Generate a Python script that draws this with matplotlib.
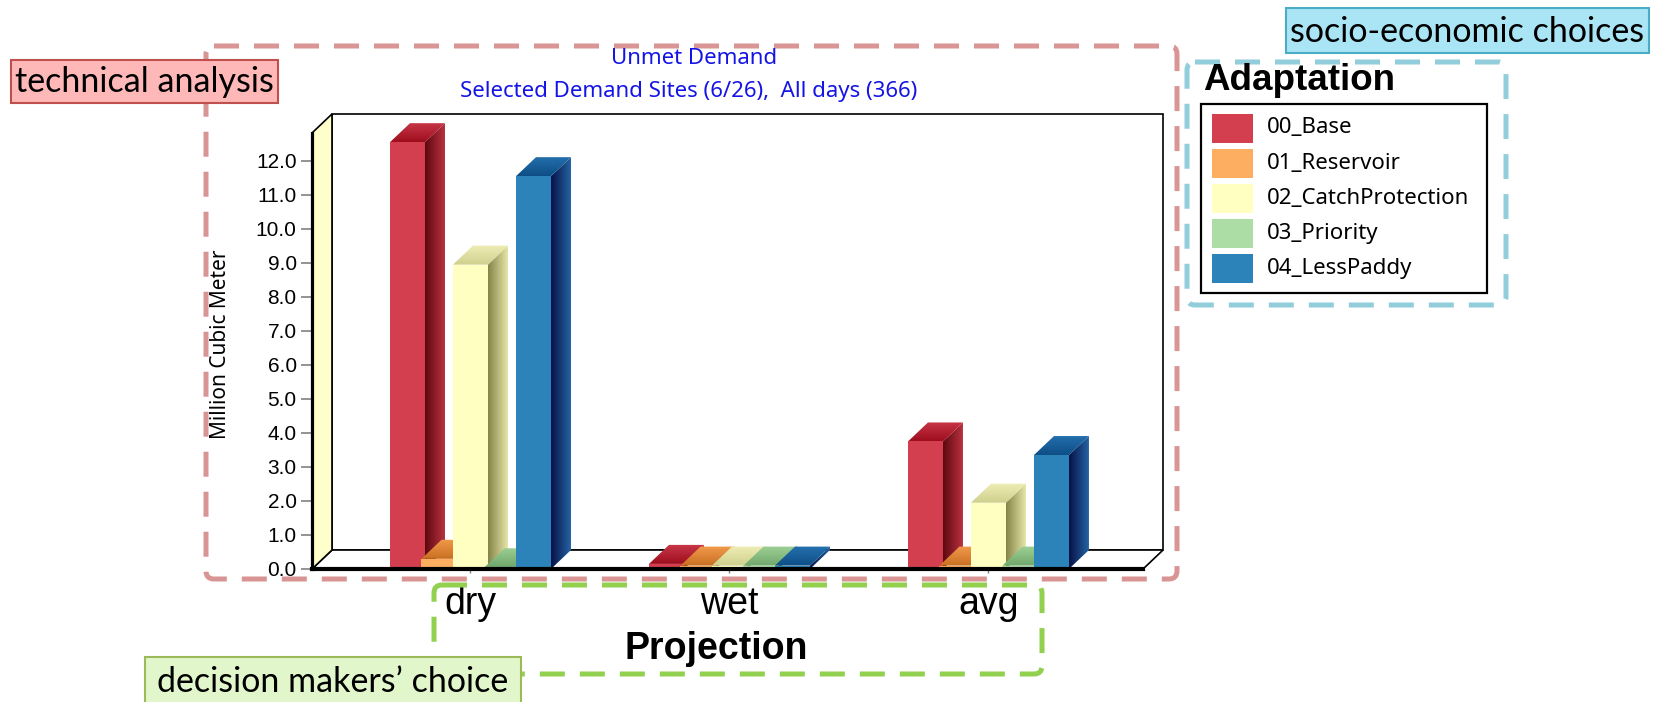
import matplotlib
matplotlib.use("Agg")
import matplotlib.pyplot as plt
import numpy as np
from matplotlib.patches import Rectangle, Polygon, FancyBboxPatch
from matplotlib.colors import LinearSegmentedColormap

# data (million m3)
projections = ["dry", "wet", "avg"]
scenarios = ["00_Base", "01_Reservoir", "02_CatchProtection", "03_Priority", "04_LessPaddy"]
base = [12.55, 0.15, 3.75]
reservoir = [0.3, 0.1, 0.1]
catch_protection = [8.95, 0.1, 1.95]
priority = [0.05, 0.1, 0.1]
less_paddy = [11.55, 0.1, 3.35]
values = [base, reservoir, catch_protection, priority, less_paddy]
yticks = np.arange(0, 13)

# front colour, side (dark -> light), top (front -> back)
front_cols = ["#D43F50", "#FDAE61", "#FFFFC2", "#ABDDA4", "#2B83BA"]
side_cols = [("#5E0810", "#B8323F"), ("#A85A18", "#E8913F"), ("#85854A", "#E6E6A8"),
             ("#5C8C56", "#A3D49B"), ("#081248", "#2463A3")]
top_cols = [("#9E0E1E", "#C83848"), ("#C86F22", "#F29A4A"), ("#CFCF8E", "#EEEEB5"),
            ("#72A86C", "#9CCF94"), ("#0E4E86", "#2470AE")]

W, H = 1659, 702
fig = plt.figure(figsize=(W / 100, H / 100), dpi=100)


def fbox(x0, y0, x1, y1):
    return [x0 / W, 1 - y1 / H, (x1 - x0) / W, (y1 - y0) / H]


ax = fig.add_axes(fbox(312, 100, 1170, 569))
xl, xr = -0.612, 2.701
y_top = 13.79
ax.set_xlim(xl, xr)
ax.set_ylim(0, y_top)
ax.patch.set_alpha(0)

# 3d depth offset in data units
dx, dy = 20 / 259, 19 / 34
x_front_r = len(projections) - 1 + 0.597
wall_h = 12.82

# back wall, floor, left wall
ax.add_patch(Rectangle((xl + dx, dy), x_front_r - xl, wall_h, fc="white", ec="black", lw=1.2, zorder=1))
ax.add_patch(Polygon([(xl, 0), (x_front_r, 0), (x_front_r + dx, dy), (xl + dx, dy)],
                     closed=True, fc="white", ec="black", lw=1.2, zorder=1.5))
ax.add_patch(Polygon([(xl, 0), (xl + dx, dy), (xl + dx, wall_h + dy), (xl, wall_h)],
                     closed=True, fc="#FFFFCC", ec="black", lw=1.2, zorder=1.5))


def grad_fill(poly, c0, c1, extent, vertical, z):
    cm = LinearSegmentedColormap.from_list("g", [c0, c1])
    g = np.linspace(0, 1, 64)
    g = g.reshape(-1, 1) if vertical else g.reshape(1, -1)
    im = ax.imshow(g, extent=extent, origin="lower", aspect="auto", cmap=cm,
                   interpolation="bilinear", zorder=z)
    im.set_clip_path(poly)


bw = 35 / 259
step = 31.5 / 259
xc = np.arange(len(projections))
z = 3
for j in range(len(projections)):
    for i, vals in enumerate(values):
        h = vals[j]
        x0 = xc[j] + (i - 2) * step - bw / 2
        x1 = x0 + bw
        ax.add_patch(Rectangle((x0, 0), bw, h, fc=front_cols[i], ec="none", zorder=z))
        side = Polygon([(x1, 0), (x1 + dx, dy), (x1 + dx, h + dy), (x1, h)], closed=True,
                       fc="none", ec="none", zorder=z)
        ax.add_patch(side)
        grad_fill(side, side_cols[i][0], side_cols[i][1], [x1, x1 + dx, 0, h + dy], False, z)
        top = Polygon([(x0, h), (x1, h), (x1 + dx, h + dy), (x0 + dx, h + dy)], closed=True,
                      fc="none", ec="none", zorder=z)
        ax.add_patch(top)
        grad_fill(top, top_cols[i][0], top_cols[i][1], [x0, x1 + dx, h, h + dy], True, z)
        z += 0.01

ax.set_xlim(xl, xr)
ax.set_ylim(0, y_top)

for s in ["top", "right"]:
    ax.spines[s].set_visible(False)
ax.spines["left"].set_bounds(0, wall_h)
ax.spines["left"].set_linewidth(2.3)
ax.spines["bottom"].set_bounds(xl, x_front_r)
ax.spines["bottom"].set_linewidth(3)
ax.spines["left"].set_zorder(10)
ax.spines["bottom"].set_zorder(10)

ax.set_yticks(yticks)
ax.set_yticklabels(["%.1f" % v for v in yticks], family="Liberation Sans", fontsize=15)
ax.tick_params(axis="y", length=8, width=1.2, color="#808080", pad=3)
ax.set_xticks(xc)
ax.set_xticklabels(projections, family="Liberation Sans", fontsize=27)
ax.tick_params(axis="x", length=3, width=1, color="#808080", pad=9)

ax.set_ylabel("Million Cubic Meter", family="Noto Sans", fontsize=15)
ax.yaxis.set_label_coords((220 - 312) / 858, (569 - 344) / 469)
ax.yaxis.label.set_va("center")
ax.set_xlabel("Projection", family="Liberation Sans", fontsize=27, fontweight="bold")
ax.xaxis.set_label_coords((716 - 312) / 858, (569 - 649) / 469)
ax.xaxis.label.set_va("center")

# overlay in pixel coordinates
ov = fig.add_axes([0, 0, 1, 1], zorder=5)
ov.set_xlim(0, W)
ov.set_ylim(H, 0)
ov.axis("off")
ov.patch.set_alpha(0)

ov.text(694, 58, "Unmet Demand", color="#1414E6", family="Noto Sans", fontsize=16,
        ha="center", va="center")
ov.text(689, 91, "Selected Demand Sites (6/26),  All days (366)", color="#1414E6",
        family="Noto Sans", fontsize=16, ha="center", va="center")

# legend
ov.text(1203, 81, "Adaptation", family="Liberation Sans", fontsize=26.5, fontweight="bold",
        ha="left", va="center")
ov.add_patch(Rectangle((1201, 104), 286, 189, fc="white", ec="black", lw=1.6))
for i, name in enumerate(scenarios):
    yc = 128 + 35.2 * i
    ov.add_patch(Rectangle((1212, yc - 14.5), 41, 29, fc=front_cols[i], ec="none"))
    ov.text(1267, yc, name, family="Noto Sans", fontsize=16, ha="left", va="center")

# dashed grouping boxes
for (x0, y0, x1, y1, c) in [(206, 46, 1177, 579, "#D99594"),
                            (434, 585, 1042, 674, "#92D050"),
                            (1187, 62, 1506, 305, "#92CDDC")]:
    ov.add_patch(FancyBboxPatch((x0, y0), x1 - x0, y1 - y0, boxstyle="round,pad=0,rounding_size=8",
                                fc="none", ec=c, lw=3.6, linestyle=(0, (5, 3))))

# label boxes
for (x0, y0, x1, y1, fc, ec, txt) in [(11, 60, 278, 103, "#FFB8B8", "#C0504D", "technical analysis"),
                                      (1286, 8, 1649, 53, "#A9E5F5", "#4BACC6", "socio-economic choices"),
                                      (145, 657, 521, 705, "#E2F6CB", "#9BBB59", "decision makers\u2019 choice")]:
    ov.add_patch(Rectangle((x0, y0), x1 - x0, y1 - y0, fc=fc, ec=ec, lw=1.5))
    ov.text((x0 + x1) / 2, (y0 + y1) / 2 + 1, txt, family="Lato", fontsize=24.5, ha="center", va="center")

fig.savefig("out.png", dpi=100)
